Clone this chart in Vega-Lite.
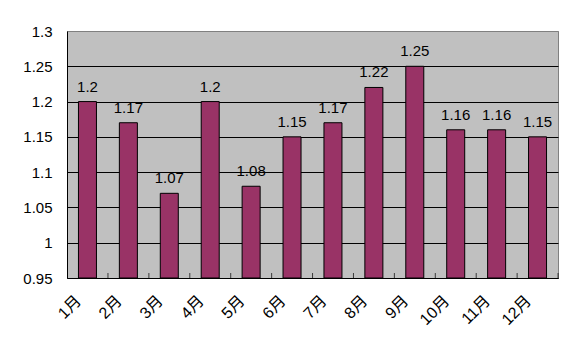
{
  "$schema": "https://vega.github.io/schema/vega-lite/v6.json",
  "autosize": "none",
  "width": 491,
  "height": 247,
  "padding": {"left": 67, "top": 31, "right": 18, "bottom": 78},
  "background": "white",
  "config": {
    "font": "Liberation Sans, Noto Sans CJK JP",
    "view": {"fill": "#C0C0C0", "stroke": "#808080", "strokeWidth": 1}
  },
  "data": {
    "values": [
      {"month": "1月", "value": 1.2},
      {"month": "2月", "value": 1.17},
      {"month": "3月", "value": 1.07},
      {"month": "4月", "value": 1.2},
      {"month": "5月", "value": 1.08},
      {"month": "6月", "value": 1.15},
      {"month": "7月", "value": 1.17},
      {"month": "8月", "value": 1.22},
      {"month": "9月", "value": 1.25},
      {"month": "10月", "value": 1.16},
      {"month": "11月", "value": 1.16},
      {"month": "12月", "value": 1.15}
    ]
  },
  "encoding": {
    "x": {
      "field": "month",
      "type": "nominal",
      "sort": null,
      "scale": {"paddingInner": 0.56, "paddingOuter": 0.28},
      "axis": {
        "title": null,
        "labelAngle": -45,
        "labelAlign": "right",
        "labelBaseline": "middle",
        "labelFontSize": 16,
        "labelColor": "black",
        "labelPadding": 20,
        "labelOffset": -9,
        "domainColor": "black",
        "ticks": false,
        "grid": false
      }
    },
    "y": {
      "field": "value",
      "type": "quantitative",
      "scale": {"domain": [0.95, 1.3], "zero": false, "nice": false},
      "axis": {
        "title": null,
        "values": [0.95, 1, 1.05, 1.1, 1.15, 1.2, 1.25, 1.3],
        "labelExpr": "format(datum.value, '.3~f')",
        "labelFontSize": 15,
        "labelColor": "black",
        "labelPadding": 15,
        "ticks": false,
        "domainColor": "black",
        "grid": true,
        "gridColor": {"condition": {"test": "datum.value >= 1.29", "value": "#808080"}, "value": "black"},
        "gridOpacity": 1
      }
    }
  },
  "layer": [
    {
      "mark": {"type": "bar", "color": "#993366", "stroke": "black", "strokeWidth": 1},
      "encoding": {"y2": {"datum": 0.95}}
    },
    {
      "mark": {"type": "tick", "color": "black", "orient": "vertical", "size": 5, "thickness": 1, "xOffset": 11.5, "yOffset": -2.5},
      "encoding": {
        "x": {"field": "month", "type": "nominal", "sort": null, "bandPosition": 1},
        "y": {"datum": 0.95}
      }
    },
    {
      "mark": {"type": "text", "baseline": "bottom", "dy": -7, "fontSize": 15, "color": "black"},
      "encoding": {"text": {"field": "value", "type": "quantitative", "format": ".3~f"}}
    }
  ]
}
